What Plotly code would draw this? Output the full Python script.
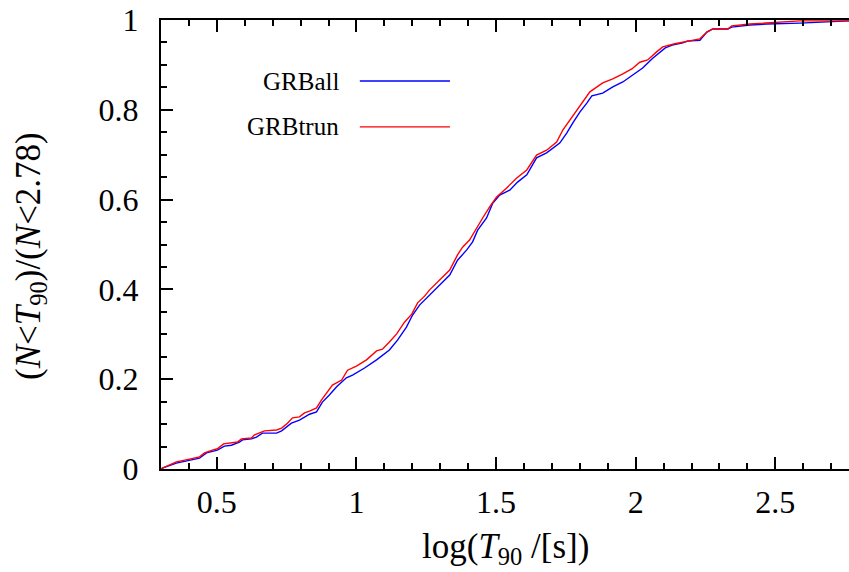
import plotly.graph_objects as go

# Cumulative fraction of bursts versus log(T90), full and truncated samples
grball_x = [0.300, 0.305, 0.355, 0.402, 0.438, 0.463, 0.502, 0.527, 0.552, 0.581,
            0.592, 0.624, 0.642, 0.663, 0.714, 0.732, 0.750, 0.767, 0.796, 0.832,
            0.857, 0.878, 0.903, 0.929, 0.964, 0.986, 1.029, 1.072, 1.118, 1.147,
            1.179, 1.201, 1.226, 1.262, 1.298, 1.334, 1.362, 1.395, 1.416, 1.434,
            1.466, 1.488, 1.513, 1.549, 1.577, 1.610, 1.645, 1.681, 1.728, 1.753,
            1.775, 1.800, 1.825, 1.843, 1.882, 1.918, 1.954, 1.990, 2.025, 2.061,
            2.086, 2.106, 2.131, 2.169, 2.184, 2.230, 2.255, 2.276, 2.330, 2.344,
            2.409, 2.470, 2.588, 2.706, 2.764]
grball_y = [0.000, 0.002, 0.013, 0.020, 0.024, 0.036, 0.042, 0.051, 0.053, 0.060,
            0.065, 0.067, 0.071, 0.080, 0.080, 0.085, 0.094, 0.102, 0.109, 0.122,
            0.127, 0.149, 0.165, 0.183, 0.203, 0.209, 0.225, 0.243, 0.265, 0.287,
            0.316, 0.343, 0.365, 0.388, 0.410, 0.432, 0.465, 0.488, 0.506, 0.532,
            0.559, 0.592, 0.610, 0.621, 0.639, 0.655, 0.693, 0.704, 0.726, 0.748,
            0.771, 0.795, 0.815, 0.831, 0.837, 0.851, 0.862, 0.877, 0.893, 0.915,
            0.929, 0.938, 0.944, 0.949, 0.953, 0.955, 0.973, 0.980, 0.980, 0.984,
            0.989, 0.991, 0.993, 0.996, 0.998]

grbtrun_x = [0.300, 0.305, 0.355, 0.373, 0.402, 0.438, 0.456, 0.484, 0.502, 0.524,
             0.552, 0.574, 0.588, 0.624, 0.635, 0.652, 0.671, 0.714, 0.732, 0.753,
             0.771, 0.796, 0.814, 0.832, 0.857, 0.875, 0.893, 0.914, 0.947, 0.968,
             1.000, 1.036, 1.072, 1.093, 1.118, 1.144, 1.172, 1.198, 1.219, 1.244,
             1.262, 1.298, 1.334, 1.362, 1.380, 1.405, 1.430, 1.452, 1.477, 1.502,
             1.538, 1.574, 1.610, 1.645, 1.681, 1.717, 1.739, 1.764, 1.789, 1.811,
             1.836, 1.882, 1.918, 1.954, 1.986, 2.015, 2.043, 2.075, 2.097, 2.140,
             2.169, 2.230, 2.255, 2.276, 2.330, 2.344, 2.409, 2.470, 2.588, 2.764]
grbtrun_y = [0.000, 0.002, 0.016, 0.018, 0.022, 0.027, 0.036, 0.042, 0.045, 0.056,
             0.058, 0.060, 0.067, 0.069, 0.076, 0.080, 0.085, 0.087, 0.091, 0.102,
             0.114, 0.116, 0.125, 0.129, 0.136, 0.154, 0.169, 0.187, 0.198, 0.220,
             0.229, 0.243, 0.263, 0.267, 0.283, 0.301, 0.327, 0.345, 0.370, 0.385,
             0.399, 0.421, 0.443, 0.477, 0.494, 0.510, 0.537, 0.559, 0.584, 0.606,
             0.626, 0.648, 0.666, 0.699, 0.710, 0.728, 0.755, 0.777, 0.800, 0.817,
             0.840, 0.860, 0.869, 0.880, 0.891, 0.906, 0.911, 0.929, 0.940, 0.947,
             0.951, 0.958, 0.973, 0.980, 0.980, 0.987, 0.991, 0.993, 0.998, 0.998]

x_ticks = [0.5, 1.0, 1.5, 2.0, 2.5]
x_tick_text = ["0.5", "1", "1.5", "2", "2.5"]
y_ticks = [0, 0.2, 0.4, 0.6, 0.8, 1.0]
y_tick_text = ["0", "0.2", "0.4", "0.6", "0.8", "1"]

SERIF = "Liberation Serif"

fig = go.Figure()
fig.add_trace(go.Scatter(x=grball_x, y=grball_y, mode="lines", name="GRBall",
                         line=dict(color="#0000ff", width=1.4), showlegend=False))
fig.add_trace(go.Scatter(x=grbtrun_x, y=grbtrun_y, mode="lines", name="GRBtrun",
                         line=dict(color="#ff0000", width=1.4), showlegend=False))

axis_common = dict(
    showline=True, linecolor="black", linewidth=2,
    ticks="inside", ticklen=12, tickwidth=2, tickcolor="black",
    showgrid=False, zeroline=False,
    tickfont=dict(family=SERIF, size=32, color="black"),
)

fig.update_xaxes(
    range=[0.3, 2.764], tickvals=x_ticks, ticktext=x_tick_text,
    mirror="allticks", ticklabelstandoff=4,
    minor=dict(dtick=0.1, tick0=0, ticks="inside", ticklen=6, tickwidth=1.5,
               tickcolor="black", showgrid=False),
    **axis_common,
)
fig.update_yaxes(
    range=[0, 1], tickvals=y_ticks, ticktext=y_tick_text,
    mirror=False, ticklabelstandoff=14,
    minor=dict(dtick=0.05, tick0=0, ticks="inside", ticklen=6, tickwidth=1.5,
               tickcolor="black", showgrid=False),
    **axis_common,
)

# Axis titles
fig.add_annotation(text="log(<i>T</i><sub>90</sub> /[s])", xref="paper", yref="paper",
                   x=0.5, y=-0.176, xanchor="center", yanchor="middle", showarrow=False,
                   font=dict(family=SERIF, size=35, color="black"))
fig.add_annotation(text="(<i>N</i>&lt;<i>T</i><sub>90</sub>)/(<i>N</i>&lt;2.78)",
                   xref="paper", yref="paper", x=-0.19, y=0.475, textangle=-90,
                   xanchor="center", yanchor="middle", showarrow=False,
                   font=dict(family=SERIF, size=35, color="black"))

# Key: label on the left, line sample on the right
key_rows = [("GRBall", "#0000ff", 0.864), ("GRBtrun", "#ff0000", 0.762)]
for label, color, ky in key_rows:
    fig.add_annotation(text=label, xref="paper", yref="paper", x=0.261, y=ky,
                       xanchor="right", yanchor="middle", showarrow=False,
                       font=dict(family=SERIF, size=25, color="black"))
    fig.add_shape(type="line", xref="paper", yref="paper", x0=0.289, x1=0.420,
                  y0=ky, y1=ky, line=dict(color=color, width=1.4))

fig.update_layout(
    width=849, height=572,
    margin=dict(l=161, r=0, t=20, b=103),
    paper_bgcolor="white", plot_bgcolor="white",
)

fig.write_html("out.html")
